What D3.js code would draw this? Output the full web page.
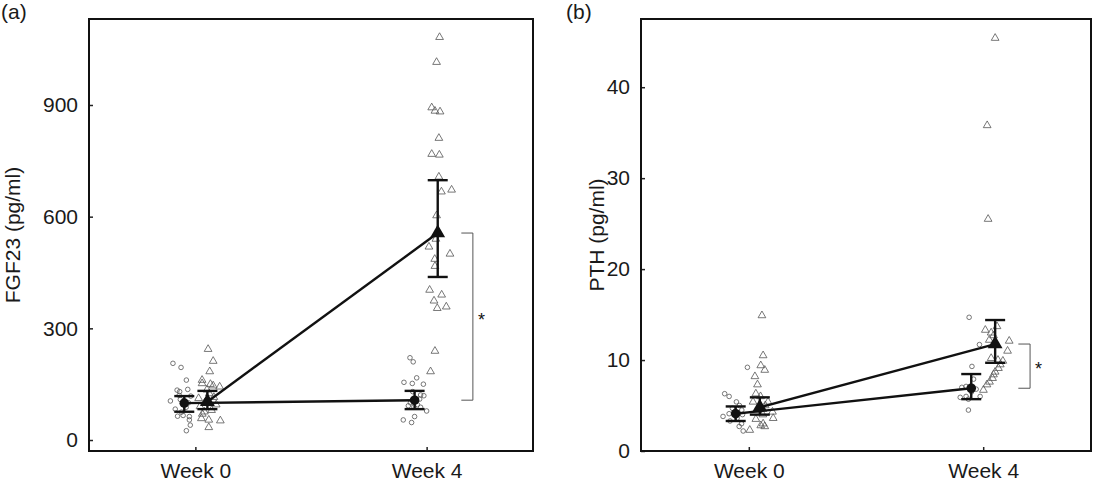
<!DOCTYPE html>
<html>
<head>
<meta charset="utf-8">
<script src="https://cdn.jsdelivr.net/npm/d3@7"></script>
<style>
  body { margin: 0; background: #fff; }
  svg { font-family: "Liberation Sans", Arial, sans-serif; }
</style>
</head>
<body>
<div id="chart"></div>
<script>
// categories
var weeks = ["Week 0", "Week 4"];

// individual points: [x offset from week (in week units), value]
var fgfCircW0 = [[-0.097,206],[-0.062,195],[-0.039,161],[-0.079,134],[-0.068,130],[-0.033,136],[-0.108,105],[-0.065,109],
  [-0.087,83],[-0.077,64],[-0.053,66],[-0.026,63],[-0.026,54],[-0.022,40],[-0.039,25],[-0.05,95],[-0.03,100],
  [-0.07,120],[-0.04,88],[-0.06,75],[-0.02,118]];
var fgfTriW0 = [[0.055,244],[0.077,212],[0.062,184],[0.029,161],[0.029,152],[0.065,150],[0.077,146],[0.105,143],
  [0.014,112],[0.039,76],[0.026,58],[0.058,54],[0.108,52],[0.058,34],[0.04,100],[0.06,125],[0.02,90],[0.08,115],
  [0.05,135],[0.03,70],[0.09,95],[0.07,80]];
var fgfCircW4 = [[-0.072,221],[-0.058,210],[-0.043,167],[-0.098,155],[-0.062,152],[-0.014,150],[-0.026,121],[-0.012,119],
  [-0.079,92],[-0.055,89],[-0.026,88],[0.0,78],[-0.052,63],[-0.101,54],[-0.065,47],[-0.05,105],[-0.07,100],
  [-0.03,110],[-0.04,95],[-0.06,130]];
var fgfTriW4 = [[0.056,1082],[0.043,1015],[0.022,893],[0.036,884],[0.058,882],[0.053,811],[0.022,768],[0.055,766],
  [0.053,707],[0.064,667],[0.108,672],[0.043,603],[0.010,519],[0.101,500],[0.035,486],[0.036,467],[0.013,403],
  [0.065,390],[0.032,374],[0.046,354],[0.085,358],[0.036,239],[0.017,184],[0.05,560],[0.04,540]];

var pthCircW0 = [[-0.006,9.2],[-0.103,6.3],[-0.084,6.0],[-0.053,5.4],[-0.110,3.8],[-0.084,4.1],[-0.027,4.0],[-0.031,3.0],
  [-0.041,2.7],[-0.024,2.2],[-0.06,4.3],[-0.05,3.6],[-0.07,4.7],[-0.04,5.0],[-0.08,3.3],[-0.03,4.5]];
var pthTriW0 = [[0.056,14.9],[0.061,10.5],[0.051,9.4],[0.068,8.9],[0.026,8.2],[0.037,7.3],[0.030,6.3],[0.018,5.4],
  [0.082,5.4],[0.101,4.3],[0.104,3.6],[0.061,3.0],[0.068,2.7],[0.051,2.8],[0.004,2.3],[0.04,4.5],[0.06,4.0],
  [0.03,3.5],[0.07,5.0],[0.05,6.0]];
var pthCircW4 = [[-0.060,14.7],[-0.016,11.7],[-0.048,9.3],[-0.041,7.9],[-0.091,7.0],[-0.073,7.1],[-0.098,5.9],[-0.073,6.0],
  [-0.013,6.0],[-0.063,5.7],[-0.063,4.5],[-0.05,6.5],[-0.03,6.8]];
var pthTriW4 = [[0.051,45.4],[0.017,35.8],[0.021,25.5],[0.059,13.7],[0.009,13.3],[0.034,13.0],[0.044,12.7],[0.026,12.2],
  [0.111,12.1],[0.104,11.0],[0.034,10.2],[0.063,10.0],[0.084,9.9],[0.073,9.5],[0.065,9.1],[0.051,8.7],[0.044,8.4],
  [0.040,8.0],[0.027,7.6],[0.016,7.3],[0.001,6.7]];

// group means with error bars: [week index, x offset, mean, low, high]
var fgfCircMean = [[0,-0.048,99,76,118],[1,-0.052,107,83,132]];
var fgfTriMean = [[0,0.052,103,83,132],[1,0.048,556,438,698]];
var pthCircMean = [[0,-0.056,4.1,3.3,4.9],[1,-0.051,6.9,5.7,8.46]];
var pthTriMean = [[0,0.047,4.8,4.0,5.9],[1,0.051,11.76,9.7,14.4]];

var fgfTicks = [0, 300, 600, 900];
var pthTicks = [0, 10, 20, 30, 40];

var W = 1093, H = 484;
var svg = d3.select("#chart").append("svg").attr("width", W).attr("height", H);

var triangle = d3.symbol().type(d3.symbolTriangle);

function drawPanel(opt) {
    var x = d3.scaleLinear().domain([-0.46, 1.46]).range([opt.left, opt.right]);
    var y = d3.scaleLinear().domain(opt.domain).range([451, 19]);
    var g = svg.append("g");

    function px(w, off) { return x(w + off); }

    // scatter points
    function circles(data, w) {
        g.selectAll(null).data(data).enter().append("circle")
            .attr("cx", function (d) { return px(w, d[0]); })
            .attr("cy", function (d) { return y(d[1]); })
            .attr("r", 2.3)
            .style("fill", "none").style("stroke", "#555").style("stroke-width", 0.8);
    }
    function triangles(data, w) {
        g.selectAll(null).data(data).enter().append("path")
            .attr("d", triangle.size(26)())
            .attr("transform", function (d) { return "translate(" + px(w, d[0]) + "," + y(d[1]) + ")"; })
            .style("fill", "none").style("stroke", "#555").style("stroke-width", 0.8);
    }
    circles(opt.circ[0], 0); circles(opt.circ[1], 1);
    triangles(opt.tri[0], 0); triangles(opt.tri[1], 1);

    // mean lines
    var line = d3.line().x(function (d) { return px(d[0], d[1]); }).y(function (d) { return y(d[2]); });
    [opt.circMean, opt.triMean].forEach(function (m) {
        g.append("path").attr("d", line(m))
            .style("fill", "none").style("stroke", "#111").style("stroke-width", 2.4);
    });

    // error bars
    [opt.circMean, opt.triMean].forEach(function (m) {
        m.forEach(function (d) {
            var cx = px(d[0], d[1]);
            g.append("line").attr("x1", cx).attr("x2", cx).attr("y1", y(d[3])).attr("y2", y(d[4]))
                .style("stroke", "#111").style("stroke-width", 2.4);
            [d[3], d[4]].forEach(function (v) {
                g.append("line").attr("x1", cx - 10).attr("x2", cx + 10).attr("y1", y(v)).attr("y2", y(v))
                    .style("stroke", "#111").style("stroke-width", 2.4);
            });
        });
    });

    // means
    g.selectAll(null).data(opt.circMean).enter().append("circle")
        .attr("cx", function (d) { return px(d[0], d[1]); })
        .attr("cy", function (d) { return y(d[2]); })
        .attr("r", 4.8).style("fill", "#111");
    g.selectAll(null).data(opt.triMean).enter().append("path")
        .attr("d", triangle.size(95)())
        .attr("transform", function (d) { return "translate(" + px(d[0], d[1]) + "," + y(d[2]) + ")"; })
        .style("fill", "#111");

    // significance bracket
    var bx = px(1, 0.2), bl = px(1, 0.15);
    var ya = y(opt.triMean[1][2]), yb = y(opt.circMean[1][2]);
    g.append("path").attr("d", "M" + bl + "," + ya + "H" + bx + "V" + yb + "H" + bl)
        .style("fill", "none").style("stroke", "#555").style("stroke-width", 1);
    g.append("text").attr("x", bx + 5).attr("y", (ya + yb) / 2 + 9)
        .style("font-size", "18px").style("fill", "#111").text("*");

    // axes
    var yAxis = d3.axisLeft(y).tickValues(opt.ticks).tickSize(-4).tickPadding(11);
    var ay = g.append("g").attr("transform", "translate(" + opt.left + ",0)").call(yAxis);
    var xAxis = d3.axisBottom(x).tickValues([0, 1]).tickSize(-4).tickPadding(12)
        .tickFormat(function (d) { return weeks[d]; });
    var ax = g.append("g").attr("transform", "translate(0,451)").call(xAxis);
    [ay, ax].forEach(function (a) {
        a.select(".domain").remove();
        a.selectAll("text").style("font-size", "21px").style("fill", "#1a1a1a")
            .style("font-family", "'Liberation Sans', Arial, sans-serif");
        a.selectAll("line").style("stroke", "#222").style("stroke-width", 1.5);
    });

    // frame
    g.append("rect").attr("x", opt.left).attr("y", 19)
        .attr("width", opt.right - opt.left).attr("height", 432)
        .style("fill", "none").style("stroke", "#111").style("stroke-width", 2);

    // labels
    g.append("text").attr("transform", "translate(" + opt.labelX + ",235) rotate(-90)")
        .attr("text-anchor", "middle").style("font-size", "21px").style("fill", "#1a1a1a")
        .text(opt.label);
    g.append("text").attr("x", opt.tagX).attr("y", 19)
        .style("font-size", "21px").style("fill", "#1a1a1a").text(opt.tag);
}

drawPanel({
    left: 89, right: 533, domain: [-29.5, 1131], ticks: fgfTicks,
    circ: [fgfCircW0, fgfCircW4], tri: [fgfTriW0, fgfTriW4],
    circMean: fgfCircMean, triMean: fgfTriMean,
    label: "FGF23 (pg/ml)", labelX: 20, tag: "(a)", tagX: 1
});
drawPanel({
    left: 641, right: 1091, domain: [0, 47.5], ticks: pthTicks,
    circ: [pthCircW0, pthCircW4], tri: [pthTriW0, pthTriW4],
    circMean: pthCircMean, triMean: pthTriMean,
    label: "PTH (pg/ml)", labelX: 604, tag: "(b)", tagX: 566
});
</script>
</body>
</html>
